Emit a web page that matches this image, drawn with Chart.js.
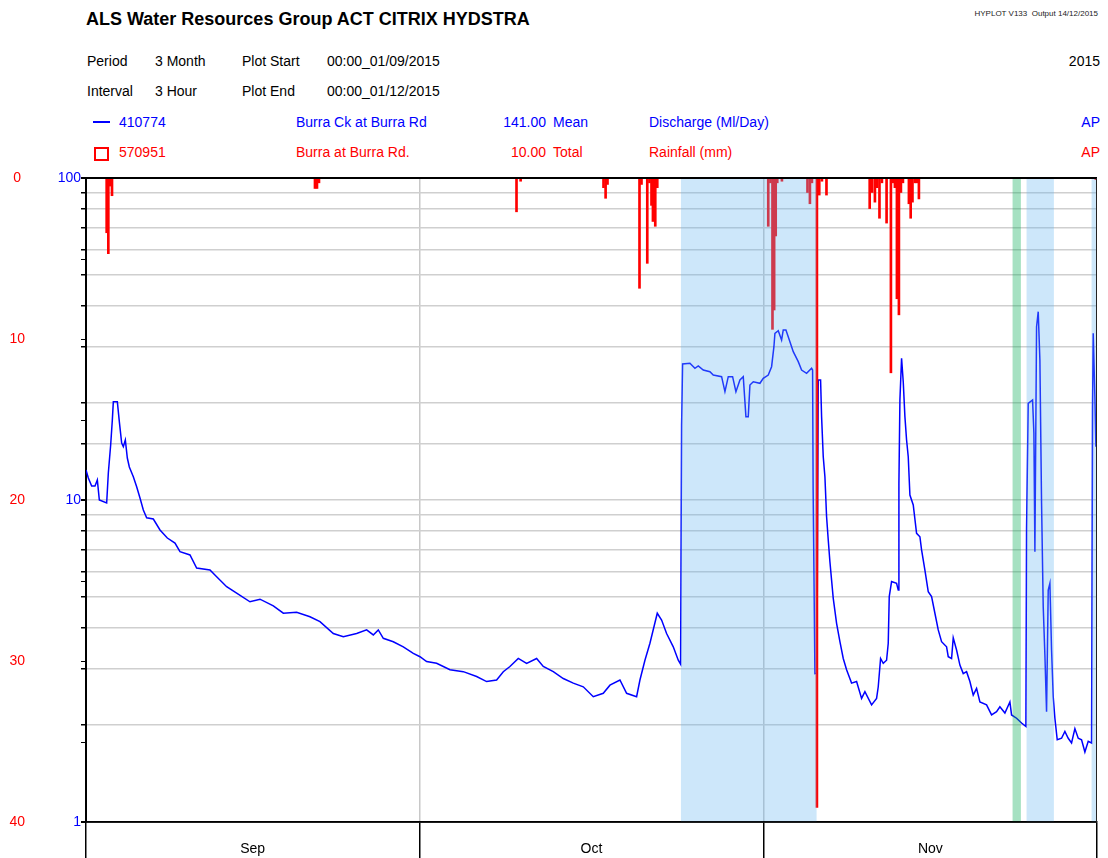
<!DOCTYPE html>
<html>
<head>
<meta charset="utf-8">
<script src="https://cdn.jsdelivr.net/npm/chart.js@4.4.1/dist/chart.umd.min.js"></script>
<style>
  body { margin: 0; width: 1108px; height: 858px; background: #fff; position: relative; overflow: hidden;
         font-family: "Liberation Sans", Arial, sans-serif; color: #000; }
  .t { position: absolute; white-space: pre; font-size: 14px; line-height: 14px; }
  .blue { color: #0000ff; }
  .red { color: #ff0000; }
  #title { position: absolute; left: 86px; top: 10px; font-size: 18px; line-height: 18px; font-weight: bold; white-space: pre; }
  #stamp { position: absolute; right: 10px; top: 10px; font-size: 8px; line-height: 8px; white-space: pre; color: #222; }
  #chart { position: absolute; left: 0; top: 165px; }
</style>
</head>
<body>
<div id="title">ALS Water Resources Group ACT CITRIX HYDSTRA</div>
<div id="stamp">HYPLOT V133  Output 14/12/2015</div>

<div class="t" style="left:87px;top:54px">Period</div>
<div class="t" style="left:155px;top:54px">3 Month</div>
<div class="t" style="left:242px;top:54px">Plot Start</div>
<div class="t" style="left:327px;top:54px">00:00_01/09/2015</div>
<div class="t" style="right:8px;top:54px">2015</div>

<div class="t" style="left:87px;top:84px">Interval</div>
<div class="t" style="left:155px;top:84px">3 Hour</div>
<div class="t" style="left:242px;top:84px">Plot End</div>
<div class="t" style="left:327px;top:84px">00:00_01/12/2015</div>

<div style="position:absolute;left:93px;top:121px;width:17px;height:2px;background:#0000ff"></div>
<div class="t blue" style="left:119px;top:115px">410774</div>
<div class="t blue" style="left:296px;top:115px">Burra Ck at Burra Rd</div>
<div class="t blue" style="right:562px;top:115px">141.00</div>
<div class="t blue" style="left:553px;top:115px">Mean</div>
<div class="t blue" style="left:649px;top:115px">Discharge (Ml/Day)</div>
<div class="t blue" style="right:8px;top:115px">AP</div>

<div style="position:absolute;left:94px;top:147px;width:15px;height:14px;box-sizing:border-box;border:2px solid #ff0000"></div>
<div class="t red" style="left:119px;top:145px">570951</div>
<div class="t red" style="left:296px;top:145px">Burra at Burra Rd.</div>
<div class="t red" style="right:562px;top:145px">10.00</div>
<div class="t red" style="left:553px;top:145px">Total</div>
<div class="t red" style="left:649px;top:145px">Rainfall (mm)</div>
<div class="t red" style="right:8px;top:145px">AP</div>

<canvas id="chart" width="1108" height="693"></canvas>

<script>
// days since 00:00 01/09/2015
const flowDay = [
  0, 0.21, 0.51, 0.81, 1.02, 1.2, 1.86, 2.01, 2.22, 2.37,
  2.46, 2.82, 3.0, 3.21, 3.36, 3.54, 3.72, 3.9, 4.26, 4.56,
  4.86, 5.16, 5.46, 6.06, 6.66, 7.32, 8.01, 8.46, 9.36, 9.96,
  11.16, 11.76, 12.66, 13.56, 14.76, 15.66, 16.86, 17.76, 18.96, 20.16,
  21.06, 22.26, 23.16, 24.36, 25.26, 25.86, 26.31, 26.76, 27.66, 28.56,
  29.46, 30.06, 30.66, 31.56, 32.76, 33.96, 35.16, 36.06, 36.96, 37.56,
  38.16, 38.91, 39.66, 40.56, 41.16, 42.06, 42.96, 43.86, 44.76, 45.66,
  46.56, 47.16, 48.06, 48.66, 49.56, 49.86, 50.31, 50.76, 51.42, 51.81,
  52.26, 52.86, 53.31, 53.52, 53.61, 53.7, 54.36, 54.81, 55.11, 55.56,
  56.16, 56.46, 57.21, 57.51, 57.81, 58.2, 58.5, 58.86, 59.16, 59.4,
  59.61, 59.76, 60.06, 60.66, 60.96, 61.41, 61.71, 61.92, 62.01, 62.31,
  62.61, 62.76, 63.0, 63.36, 63.66, 64.11, 64.41, 64.86, 65.31, 65.4,
  65.45, 65.61, 65.79, 65.91, 66.12, 66.21, 66.36, 66.51, 66.66, 66.81,
  66.96, 67.11, 67.26, 67.56, 67.86, 68.16, 68.46, 68.91, 69.36, 69.81,
  70.11, 70.71, 71.16, 71.31, 71.52, 71.76, 72.06, 72.21, 72.3, 72.51,
  72.96, 73.11, 73.17, 73.26, 73.41, 73.56, 73.71, 73.86, 74.01, 74.16,
  74.46, 74.76, 75.06, 75.21, 75.51, 75.81, 76.11, 76.41, 76.71, 77.01,
  77.46, 77.61, 77.91, 78.06, 78.36, 78.66, 78.96, 79.26, 79.56, 79.86,
  80.16, 80.46, 81.06, 81.51, 81.96, 82.26, 82.71, 83.16, 83.31, 83.76,
  84.21, 84.6, 84.66, 84.81, 85.2, 85.32, 85.41, 85.56, 85.71, 85.86,
  86.01, 86.16, 86.31, 86.46, 86.61, 86.76, 86.91, 87.06, 87.21, 87.42,
  87.81, 88.11, 88.41, 88.71, 89.01, 89.31, 89.61, 89.91, 90.21, 90.51,
  90.6, 90.66, 90.81, 90.9
];
// discharge, Ml/Day
const flowValue = [
  12.4, 11.7, 11.05, 11.05, 11.54, 10.0, 9.79, 12.13, 14.82, 17.72,
  20.2, 20.2, 17.51, 15.03, 14.64, 15.36, 13.5, 12.66, 11.81, 11.0,
  10.14, 9.31, 8.81, 8.73, 8.07, 7.62, 7.35, 6.91, 6.75, 6.15,
  6.06, 5.78, 5.38, 5.14, 4.83, 4.92, 4.69, 4.45, 4.48, 4.34,
  4.19, 3.85, 3.76, 3.85, 3.95, 3.81, 3.95, 3.72, 3.63, 3.5,
  3.34, 3.26, 3.15, 3.11, 2.97, 2.93, 2.83, 2.73, 2.76, 2.93,
  3.04, 3.22, 3.11, 3.22, 3.04, 2.93, 2.79, 2.7, 2.63, 2.45,
  2.51, 2.66, 2.76, 2.51, 2.45, 2.76, 3.18, 3.59, 4.45, 4.24,
  3.85, 3.5, 3.18, 3.09, 17.1, 26.45, 26.58, 25.64, 26.07, 25.33,
  25.02, 24.44, 24.15, 21.7, 24.15, 24.15, 21.7, 23.59, 24.15, 18.15,
  18.15, 22.76, 23.3, 23.04, 23.88, 24.44, 25.94, 29.93, 32.94, 33.56,
  31.4, 33.73, 33.73, 31.02, 28.88, 26.89, 25.33, 24.74, 25.64, 25.33,
  10.74, 2.89, 2.9, 23.59, 23.59, 18.15, 13.63, 11.81, 8.87, 7.51,
  6.43, 5.64, 4.95, 4.14, 3.63, 3.22, 2.97, 2.7, 2.73, 2.42,
  2.54, 2.31, 2.42, 2.63, 3.22, 3.11, 3.18, 3.59, 5.01, 5.58,
  5.51, 5.25, 11.27, 20.44, 27.54, 23.3, 18.15, 15.36, 13.63, 10.36,
  9.65, 7.88, 7.69, 7.0, 6.06, 5.19, 5.01, 4.45, 3.95, 3.63,
  3.5, 3.26, 3.22, 3.73, 3.42, 3.07, 2.89, 2.93, 2.73, 2.48,
  2.6, 2.36, 2.31, 2.15, 2.2, 2.28, 2.18, 2.36, 2.15, 2.1,
  2.03, 1.98, 8.17, 19.96, 20.44, 16.11, 6.91, 34.53, 38.44, 27.22,
  9.77, 4.66, 3.3, 2.2, 5.25, 5.51, 3.42, 2.45, 2.1, 1.8,
  1.82, 1.91, 1.82, 1.76, 1.95, 1.82, 1.8, 1.65, 1.78, 1.76,
  19.49, 32.94, 20.93, 14.64
];

const rainDay = [
  1.86, 2.01, 2.16, 2.34, 20.61, 20.79, 20.97, 38.75, 39.12, 46.58,
  46.77, 46.94, 49.82, 50.0, 50.52, 50.72, 50.9, 51.03, 51.24, 51.42,
  61.41, 61.61, 61.79, 61.94, 62.08, 62.22, 62.64, 64.94, 65.16, 65.34,
  65.79, 66.0, 66.24, 66.65, 70.54, 70.76, 71.01, 71.21, 71.42, 71.64,
  72.06, 72.45, 72.63, 72.81, 72.99, 73.17, 73.35, 73.53, 74.07, 74.23,
  74.39, 74.61, 74.79, 74.97, 90.9
];
// rainfall, mm per 3 hours
const rainValue = [
  3.4, 4.7, 0.5, 1.1, 0.65, 0.65, 0.3, 2.1, 0.2, 0.6,
  1.26, 0.4, 6.85, 0.4, 5.3, 0.3, 1.7, 2.7, 3.0, 0.6,
  3.0, 0.3, 9.4, 8.2, 3.6, 0.3, 0.2, 0.9, 1.6, 0.3,
  39.1, 1.06, 0.2, 1.06, 1.9, 0.9, 1.5, 0.6, 2.5, 0.3,
  2.8, 12.1, 0.3, 0.6, 7.5, 8.5, 0.9, 0.3, 1.6, 2.5,
  1.5, 0.3, 0.3, 1.3, 0.1
];

const monthTicks = [0, 15, 30, 45.5, 61, 76, 91];
const monthLabels = ['', 'Sep', '', 'Oct', '', 'Nov', ''];
const monthEdges = [0, 30, 61, 91];
const flowLabels = [1, 10, 100];
const rainLabels = [0, 10, 20, 30, 40];

// quality code periods
const shadeStart = [53.55, 83.4, 84.66, 90.51];
const shadeEnd = [65.76, 84.15, 87.12, 91];
const shadeCode = ['gap', 'est', 'gap', 'gap'];

const shadeFill = { gap: 'rgba(100,180,240,0.32)', est: 'rgba(0,170,80,0.35)' };
const axisFont = { family: '"Liberation Sans", Arial, sans-serif', size: 14 };

const shading = {
  id: 'shading',
  afterDatasetsDraw(chart) {
    const { ctx, chartArea: a, scales: { x } } = chart;
    ctx.save();
    shadeStart.forEach((s, i) => {
      const x0 = x.getPixelForValue(s);
      const x1 = x.getPixelForValue(shadeEnd[i]);
      ctx.fillStyle = shadeFill[shadeCode[i]];
      ctx.fillRect(x0, a.top, x1 - x0, a.bottom - a.top);
    });
    ctx.restore();
  }
};

// plot frame, plus the rainfall tick marks on the left axis line
const frame = {
  id: 'frame',
  afterDraw(chart) {
    const { ctx, chartArea: a } = chart;
    const r = chart.scales.rain;
    ctx.save();
    ctx.strokeStyle = '#000';
    ctx.lineWidth = 1;
    ctx.beginPath();
    r.ticks.forEach(t => {
      const y = Math.round(r.getPixelForValue(t.value)) + 0.5;
      ctx.moveTo(a.left - 5, y);
      ctx.lineTo(a.left, y);
    });
    ctx.stroke();
    ctx.lineWidth = 2;
    ctx.beginPath();
    ctx.moveTo(a.left, a.top);
    ctx.lineTo(a.right, a.top);
    ctx.stroke();
    ctx.lineWidth = 1.5;
    ctx.beginPath();
    ctx.moveTo(a.left, a.bottom);
    ctx.lineTo(a.right, a.bottom);
    ctx.stroke();
    ctx.strokeStyle = '#222';
    ctx.lineWidth = 1;
    ctx.beginPath();
    ctx.moveTo(a.right - 0.5, a.top);
    ctx.lineTo(a.right - 0.5, a.bottom);
    ctx.stroke();
    ctx.restore();
  }
};

new Chart(document.getElementById('chart'), {
  type: 'line',
  data: {
    datasets: [
      {
        type: 'bar',
        label: 'Rainfall (mm)',
        data: rainDay.map((d, i) => ({ x: d, y: rainValue[i] })),
        yAxisID: 'rain',
        backgroundColor: '#ff0000',
        barThickness: 2,
        order: 0
      },
      {
        type: 'line',
        label: 'Discharge (Ml/Day)',
        data: flowDay.map((d, i) => ({ x: d, y: flowValue[i] })),
        yAxisID: 'flow',
        borderColor: '#0000ff',
        borderWidth: 1.5,
        pointRadius: 0,
        tension: 0,
        order: 1
      }
    ]
  },
  options: {
    responsive: false,
    animation: false,
    devicePixelRatio: 1,
    layout: { padding: { top: 13, right: 11, bottom: 0, left: 0 } },
    plugins: { legend: { display: false }, tooltip: { enabled: false } },
    scales: {
      x: {
        type: 'linear',
        min: 0,
        max: 91,
        offset: false,
        afterBuildTicks: s => { s.ticks = monthTicks.map(v => ({ value: v })); },
        afterFit: s => { s.height = 36; },
        ticks: {
          autoSkip: false,
          maxRotation: 0,
          padding: -17,
          color: '#000',
          font: axisFont,
          callback: (v, i) => monthLabels[i]
        },
        grid: {
          offset: false,
          lineWidth: 1.5,
          tickLength: 36,
          color: c => (c.tick && c.tick.value > 0 && c.tick.value < 91 && monthEdges.includes(c.tick.value)) ? '#c8c8c8' : 'rgba(0,0,0,0)',
          tickColor: c => (c.tick && monthEdges.includes(c.tick.value)) ? '#000' : 'rgba(0,0,0,0)'
        },
        border: { color: '#000', width: 1.5 }
      },
      flow: {
        type: 'logarithmic',
        position: 'left',
        weight: 0,
        min: 1,
        max: 100,
        afterFit: s => { s.width = 60; },
        ticks: {
          autoSkip: false,
          padding: 0,
          color: '#0000ff',
          font: axisFont,
          callback: v => flowLabels.includes(v) ? String(v) : ''
        },
        grid: { color: '#cfcfcf', lineWidth: 1.5, tickColor: '#000', tickLength: 5 },
        border: { color: '#000', width: 2 }
      },
      rain: {
        type: 'linear',
        position: 'left',
        weight: 1,
        reverse: true,
        min: 0,
        max: 40,
        afterFit: s => { s.width = 26; },
        ticks: {
          stepSize: 5,
          autoSkip: false,
          padding: 1,
          crossAlign: 'center',
          color: '#ff0000',
          font: axisFont,
          callback: v => rainLabels.includes(v) ? String(v) : ''
        },
        grid: { display: false, drawTicks: false },
        border: { display: false }
      }
    }
  },
  plugins: [shading, frame]
});
</script>
</body>
</html>
